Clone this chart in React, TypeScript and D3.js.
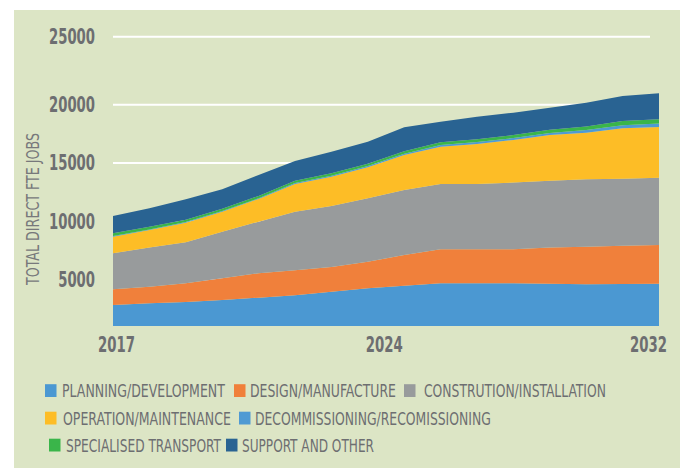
import React from "react";
import * as d3 from "d3";

const years = [2017, 2018, 2019, 2020, 2021, 2022, 2023, 2024, 2025, 2026, 2027, 2028, 2029, 2030, 2031, 2032];
const planning = [2800, 2950, 3060, 3230, 3430, 3640, 3950, 4240, 4460, 4670, 4670, 4670, 4630, 4580, 4610, 4630];
const design = [1350, 1420, 1610, 1860, 2100, 2150, 2120, 2280, 2640, 2920, 2920, 2920, 3100, 3230, 3290, 3320];
const construction = [3090, 3380, 3520, 4000, 4430, 5020, 5240, 5440, 5580, 5600, 5610, 5720, 5750, 5790, 5750, 5780];
const operation = [1430, 1490, 1680, 1720, 1950, 2380, 2510, 2670, 3000, 3200, 3430, 3660, 3920, 4000, 4330, 4360];
const decommissioning = [50, 50, 50, 60, 60, 80, 90, 100, 110, 150, 160, 170, 180, 220, 260, 290];
const transport = [250, 230, 200, 190, 200, 200, 210, 200, 210, 230, 240, 250, 260, 300, 360, 370];
const support = [1480, 1590, 1760, 1680, 1800, 1700, 1850, 1890, 2060, 1770, 1940, 1920, 1900, 2030, 2040, 2090];

const seriesNames = [
  "PLANNING/DEVELOPMENT",
  "DESIGN/MANUFACTURE",
  "CONSTRUTION/INSTALLATION",
  "OPERATION/MAINTENANCE",
  "DECOMMISSIONING/RECOMISSIONING",
  "SPECIALISED TRANSPORT",
  "SUPPORT AND OTHER",
];
const seriesValues = [planning, design, construction, operation, decommissioning, transport, support];
const seriesColors = ["#4b98d2", "#f0803b", "#989b9c", "#fdbd26", "#4f9ad3", "#3ab54a", "#296392"];

const yTicks = [5000, 10000, 15000, 20000, 25000];
const xTickLabels = [2017, 2024, 2032];
const yTitle = "TOTAL DIRECT FTE JOBS";

const W = 680;
const H = 468;
const FONT = "'Liberation Sans Narrow', 'DejaVu Sans Condensed', 'Liberation Sans', sans-serif";
const TEXT = "#6d6e71";

// legend layout
const legendLayout = [
  { row: 0, swX: 45, txX: 62, tw: 163 },
  { row: 0, swX: 234, txX: 250, tw: 146 },
  { row: 0, swX: 404, txX: 424, tw: 182 },
  { row: 1, swX: 45, txX: 63, tw: 168 },
  { row: 1, swX: 239, txX: 255, tw: 236 },
  { row: 2, swX: 49, txX: 66, tw: 155 },
  { row: 2, swX: 226, txX: 242, tw: 132 },
];
const rowBaselines = [397, 424.5, 451.5];
const xLabelLayout: Record<number, { dx: number; anchor: string }> = {
  2017: { dx: -15, anchor: "start" },
  2024: { dx: -2, anchor: "start" },
  2032: { dx: 8, anchor: "end" },
};

let ctx: CanvasRenderingContext2D | null = null;
function measure(txt: string, size: number, weight: string) {
  if (!ctx) ctx = document.createElement("canvas").getContext("2d");
  if (!ctx) return txt.length * size * 0.5;
  ctx.font = `${weight} ${size}px ${FONT}`;
  return ctx.measureText(txt).width;
}

function FitText(props: {
  x: number;
  y: number;
  width: number;
  size: number;
  weight?: string;
  fill: string;
  anchor?: "start" | "middle" | "end";
  rotate?: number;
  children: string;
}) {
  const { x, y, width, size, weight = "normal", fill, anchor = "start", rotate = 0, children } = props;
  const natural = measure(children, size, weight);
  const sx = width / natural;
  return (
    <text
      transform={`translate(${x},${y}) rotate(${rotate}) scale(${sx},1)`}
      fontSize={size}
      fontWeight={weight}
      fill={fill}
      textAnchor={anchor}
      fontFamily={FONT}
    >
      {children}
    </text>
  );
}

export default function App() {
  const x = d3.scaleLinear().domain([2017, 2032]).range([113, 659]);
  const y = d3.scaleLinear().domain([1000, 20000, 25000]).range([326, 104.7, 36.7]).clamp(true);

  const keys = seriesNames.map((_, i) => `s${i}`);
  const table = years.map((yr, j) => {
    const row: any = { year: yr };
    seriesValues.forEach((arr, i) => (row[`s${i}`] = arr[j]));
    return row;
  });
  const stacked = d3.stack().keys(keys)(table as any);
  const area = d3
    .area<any>()
    .x((d) => x(d.data.year))
    .y0((d) => y(d[0]))
    .y1((d) => y(d[1]))
    .curve(d3.curveLinear);

  return (
    <svg
      width={W}
      height={H}
      style={{ position: "absolute", left: 0, top: 0, display: "block" }}
      fontFamily={FONT}
    >
      <rect x={0} y={0} width={W} height={H} fill="#ffffff" />
      <rect x={14} y={10} width={W - 14} height={H - 10} fill="#dce5c5" />
      {yTicks.map((t) => (
        <line key={t} x1={113} x2={650} y1={y(t)} y2={y(t)} stroke="#ffffff" strokeWidth={2} />
      ))}
      {stacked.map((s, i) => (
        <path key={i} d={area(s as any) || ""} fill={seriesColors[i]} />
      ))}
      {yTicks.map((t) => {
        const label = String(t);
        return (
          <FitText
            key={t}
            x={95}
            y={y(t) + 7.5}
            anchor="end"
            size={20.5}
            weight="bold"
            fill={TEXT}
            width={label.length * 9.2}
          >
            {label}
          </FitText>
        );
      })}
      {xTickLabels.map((t) => (
        <FitText
          key={t}
          x={x(t) + xLabelLayout[t].dx}
          y={352}
          anchor={xLabelLayout[t].anchor as any}
          size={20.5}
          weight="bold"
          fill={TEXT}
          width={37}
        >
          {String(t)}
        </FitText>
      ))}
      <FitText x={39} y={209} rotate={-90} anchor="middle" size={18} fill="#77787b" width={152}>
        {yTitle}
      </FitText>
      {seriesNames.map((name, i) => {
        const l = legendLayout[i];
        const base = rowBaselines[l.row];
        return (
          <g key={name}>
            <rect x={l.swX} y={base - 12.8} width={11.5} height={12.8} fill={seriesColors[i]} />
            <FitText x={l.txX} y={base} size={17} fill={TEXT} width={l.tw}>
              {name}
            </FitText>
          </g>
        );
      })}
    </svg>
  );
}
